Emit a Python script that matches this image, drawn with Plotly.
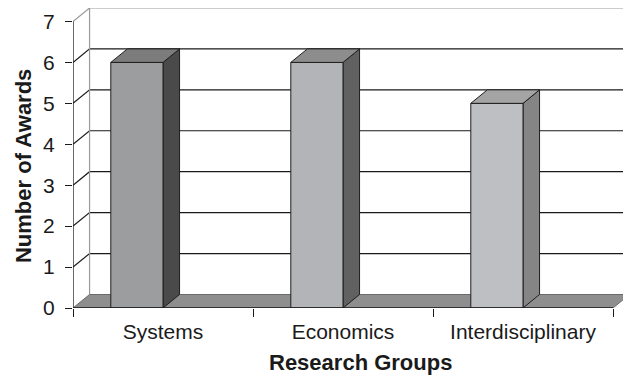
import plotly.graph_objects as go

categories = ["Systems", "Economics", "Interdisciplinary"]
awards = [6, 6, 5]
y_ticks = [0, 1, 2, 3, 4, 5, 6, 7]
x_title = "Research Groups"
y_title = "Number of Awards"
face_colors = ["#9c9d9f", "#b3b4b7", "#bebfc2"]
side_colors = ["#4a4a4a", "#616161", "#858585"]
top_colors = ["#7c7c7c", "#8d8d8d", "#a4a4a4"]

DX = 0.092   # depth offset (x units)
DY = 0.33    # depth offset (y units)
X0 = -0.5
XMAX = -0.5 + 550 / 180
YMAX = 300 / 40.93
BAR_L, BAR_R = -0.29, 0.0
XEND = 2.5

FONT = "Liberation Sans, Arial, sans-serif"
fig = go.Figure()


def poly(xs, ys, fill, line="#1e1e1e", w=1):
    fig.add_trace(go.Scatter(x=xs + [xs[0]], y=ys + [ys[0]], mode="lines", fill="toself",
                             fillcolor=fill, line=dict(color=line, width=w),
                             hoverinfo="skip", showlegend=False))


def seg(xs, ys, color, w=1.2):
    fig.add_trace(go.Scatter(x=xs, y=ys, mode="lines", line=dict(color=color, width=w),
                             hoverinfo="skip", showlegend=False))


# back wall gridlines and left-wall diagonals
for v in y_ticks[1:]:
    c = "#1a1a1a" if v < y_ticks[-1] else "#9a9a9a"
    seg([X0, X0 + DX, XMAX + 0.2], [v, v + DY, v + DY], c)
# left wall back edge
seg([X0 + DX, X0 + DX], [DY, y_ticks[-1] + DY], "#9a9a9a")

# floor
poly([X0, XEND, XEND + DX, X0 + DX], [0, 0, DY, DY], "#8e8e8e", line="#6a6a6a")

# bars
for i, v in enumerate(awards):
    xl, xr = i + BAR_L, i + BAR_R
    poly([xr, xr + DX, xr + DX, xr], [0, DY, v + DY, v], side_colors[i])
    poly([xl, xr, xr, xl], [0, 0, v, v], face_colors[i])
    poly([xl, xr, xr + DX, xl + DX], [v, v, v + DY, v + DY], top_colors[i])

# axis lines
seg([X0, XEND], [0, 0], "#1a1a1a", 1.3)
seg([X0, X0], [0, y_ticks[-1]], "#1a1a1a", 1.3)

fig.update_layout(
    width=623, height=375,
    margin=dict(l=73, r=0, t=8, b=67),
    plot_bgcolor="white", paper_bgcolor="white",
    font=dict(family=FONT, size=21, color="#1a1a1a"),
    xaxis=dict(range=[X0, XMAX], tickmode="array", tickvals=list(range(len(categories))),
               ticktext=categories, ticks="", showgrid=False, zeroline=False, showline=False,
               tickfont=dict(size=21), ticklabelstandoff=9,
               minor=dict(tickmode="array", tickvals=[X0 + k for k in range(len(categories) + 1)],
                          ticks="outside", ticklen=8, tickwidth=1.3, tickcolor="#1a1a1a", showgrid=False)),
    yaxis=dict(range=[0, YMAX], tickmode="array", tickvals=y_ticks, ticks="outside", ticklen=7,
               tickwidth=1.3, tickcolor="#1a1a1a", showgrid=False, zeroline=False, showline=False,
               tickfont=dict(size=21), ticklabelstandoff=6),
    annotations=[
        dict(text="<b>%s</b>" % x_title, xref="paper", yref="paper", x=0.5227, y=-0.1833,
             xanchor="center", yanchor="middle", showarrow=False, font=dict(size=22)),
        dict(text="<b>%s</b>" % y_title, xref="paper", yref="paper", x=-0.0909, y=0.4733,
             xanchor="center", yanchor="middle", textangle=-90, showarrow=False, font=dict(size=22)),
    ],
)

fig.write_html("out.html")
